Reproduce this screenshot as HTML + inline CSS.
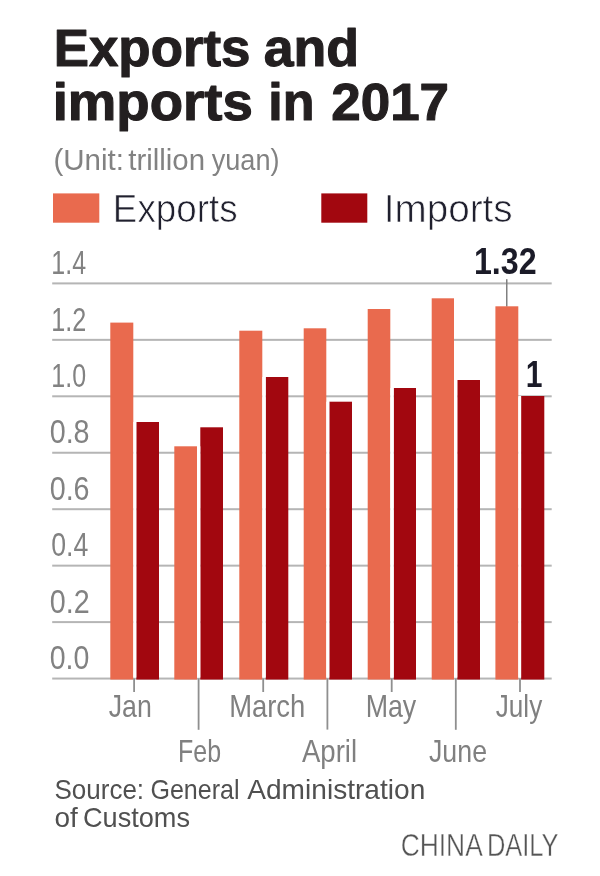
<!DOCTYPE html>
<html><head><meta charset="utf-8"><title>Exports and imports in 2017</title>
<style>
html,body{margin:0;padding:0;background:#fff;}
body{width:600px;height:876px;overflow:hidden;font-family:"Liberation Sans",sans-serif;}
svg{display:block;}
text{font-family:"Liberation Sans",sans-serif;}
</style></head><body>
<svg width="600" height="876" viewBox="0 0 600 876">
<rect x="0" y="0" width="600" height="876" fill="#ffffff"/>
<defs><filter id="soft" color-interpolation-filters="sRGB" x="0" y="0" width="600" height="876" filterUnits="userSpaceOnUse"><feGaussianBlur stdDeviation="0.4"/></filter></defs>
<g filter="url(#soft)">
<rect x="53" y="193.4" width="46.3" height="29.3" fill="#E96A4E"/>
<rect x="321.3" y="193.4" width="46" height="29.3" fill="#A2070F"/>
<rect x="52.2" y="282.40" width="499.5" height="2" fill="#b5b5b5"/>
<rect x="52.2" y="338.85" width="499.5" height="2" fill="#b5b5b5"/>
<rect x="52.2" y="395.30" width="499.5" height="2" fill="#b5b5b5"/>
<rect x="52.2" y="451.75" width="499.5" height="2" fill="#b5b5b5"/>
<rect x="52.2" y="508.20" width="499.5" height="2" fill="#b5b5b5"/>
<rect x="52.2" y="564.65" width="499.5" height="2" fill="#b5b5b5"/>
<rect x="52.2" y="621.10" width="499.5" height="2" fill="#b5b5b5"/>
<rect x="52.2" y="677.55" width="499.5" height="2" fill="#b5b5b5"/>
<rect x="506" y="279.2" width="1.5" height="27.5" fill="#808080"/>
<rect x="110.3" y="322.6" width="23.0" height="356.95" fill="#E96A4E"/>
<rect x="136.3" y="422.0" width="22.7" height="257.55" fill="#A2070F"/>
<rect x="133.3" y="422.0" width="3.0" height="255.55" fill="#fff"/>
<rect x="174.3" y="446.3" width="22.7" height="233.25" fill="#E96A4E"/>
<rect x="200.3" y="427.3" width="22.7" height="252.25" fill="#A2070F"/>
<rect x="197.0" y="446.3" width="3.3" height="231.25" fill="#fff"/>
<rect x="239.3" y="330.7" width="23.0" height="348.85" fill="#E96A4E"/>
<rect x="265.7" y="377.0" width="22.6" height="302.55" fill="#A2070F"/>
<rect x="262.3" y="377.0" width="3.4" height="300.55" fill="#fff"/>
<rect x="303.7" y="328.3" width="22.6" height="351.25" fill="#E96A4E"/>
<rect x="329.3" y="401.7" width="22.7" height="277.85" fill="#A2070F"/>
<rect x="326.3" y="401.7" width="3.0" height="275.85" fill="#fff"/>
<rect x="367.7" y="309.0" width="22.6" height="370.55" fill="#E96A4E"/>
<rect x="393.7" y="388.0" width="22.3" height="291.55" fill="#A2070F"/>
<rect x="390.3" y="388.0" width="3.4" height="289.55" fill="#fff"/>
<rect x="431.7" y="298.3" width="22.3" height="381.25" fill="#E96A4E"/>
<rect x="457.3" y="380.0" width="22.7" height="299.55" fill="#A2070F"/>
<rect x="454.0" y="380.0" width="3.3" height="297.55" fill="#fff"/>
<rect x="495.4" y="306.3" width="22.9" height="373.25" fill="#E96A4E"/>
<rect x="521.1" y="396.0" width="23.2" height="283.55" fill="#A2070F"/>
<rect x="518.3" y="396.0" width="2.8" height="281.55" fill="#fff"/>
<rect x="133.2" y="678.55" width="1.8" height="13.45" fill="#8f8f8f"/>
<rect x="197.7" y="678.55" width="1.8" height="51.25" fill="#8f8f8f"/>
<rect x="262.3" y="678.55" width="1.8" height="13.45" fill="#8f8f8f"/>
<rect x="326.5" y="678.55" width="1.8" height="51.05" fill="#8f8f8f"/>
<rect x="390.8" y="678.55" width="1.8" height="13.45" fill="#8f8f8f"/>
<rect x="454.9" y="678.55" width="1.8" height="51.25" fill="#8f8f8f"/>
<rect x="519.1" y="678.55" width="1.8" height="13.45" fill="#8f8f8f"/>
<text x="53.68" y="65.5" font-size="52.4" font-weight="bold" fill="#231f20" textLength="196.86" lengthAdjust="spacingAndGlyphs" stroke="#231f20" stroke-width="1.1" stroke-linejoin="round">Exports</text>
<text x="263.71" y="65.5" font-size="52.4" font-weight="bold" fill="#231f20" textLength="95.41" lengthAdjust="spacingAndGlyphs" stroke="#231f20" stroke-width="1.1" stroke-linejoin="round">and</text>
<text x="52.67" y="120.2" font-size="52.4" font-weight="bold" fill="#231f20" textLength="200.12" lengthAdjust="spacingAndGlyphs" stroke="#231f20" stroke-width="1.1" stroke-linejoin="round">imports</text>
<text x="268.36" y="120.2" font-size="52.4" font-weight="bold" fill="#231f20" textLength="46.2" lengthAdjust="spacingAndGlyphs" stroke="#231f20" stroke-width="1.1" stroke-linejoin="round">in</text>
<text x="331.22" y="120.2" font-size="52.4" font-weight="bold" fill="#231f20" textLength="117.83" lengthAdjust="spacingAndGlyphs" stroke="#231f20" stroke-width="1.1" stroke-linejoin="round">2017</text>
<text x="53.38" y="170" font-size="30" fill="#828282" textLength="70.54" lengthAdjust="spacingAndGlyphs">(Unit:</text>
<text x="128.23" y="170" font-size="30" fill="#828282" textLength="76.83" lengthAdjust="spacingAndGlyphs">trillion</text>
<text x="211.74" y="170" font-size="30" fill="#828282" textLength="67.81" lengthAdjust="spacingAndGlyphs">yuan)</text>
<text x="112.86" y="222.1" font-size="38" fill="#20202e" textLength="124.71" lengthAdjust="spacingAndGlyphs" stroke="#fff" stroke-width="0.7">Exports</text>
<text x="383.82" y="222.1" font-size="38" fill="#20202e" textLength="128.76" lengthAdjust="spacingAndGlyphs" stroke="#fff" stroke-width="0.7">Imports</text>
<text x="473.89" y="273.6" font-size="37.5" font-weight="bold" fill="#1b1b28" textLength="62.67" lengthAdjust="spacingAndGlyphs">1.32</text>
<text x="525.67" y="387.2" font-size="36" font-weight="bold" fill="#1b1b28" textLength="16.74" lengthAdjust="spacingAndGlyphs">1</text>
<text x="108.72" y="717" font-size="31.5" fill="#808080" textLength="43.12" lengthAdjust="spacingAndGlyphs">Jan</text>
<text x="178.1" y="761.6" font-size="31.5" fill="#808080" textLength="42.98" lengthAdjust="spacingAndGlyphs">Feb</text>
<text x="229.13" y="717" font-size="31.5" fill="#808080" textLength="76.22" lengthAdjust="spacingAndGlyphs">March</text>
<text x="302.0" y="761.6" font-size="31.5" fill="#808080" textLength="55.07" lengthAdjust="spacingAndGlyphs">April</text>
<text x="365.64" y="717" font-size="31.5" fill="#808080" textLength="50.62" lengthAdjust="spacingAndGlyphs">May</text>
<text x="428.98" y="761.6" font-size="31.5" fill="#808080" textLength="58.05" lengthAdjust="spacingAndGlyphs">June</text>
<text x="495.75" y="717" font-size="31.5" fill="#808080" textLength="46.51" lengthAdjust="spacingAndGlyphs">July</text>
<text x="54.46" y="799.2" font-size="28.5" fill="#505050" textLength="89.64" lengthAdjust="spacingAndGlyphs">Source:</text>
<text x="150.46" y="799.2" font-size="28.5" fill="#505050" textLength="89.1" lengthAdjust="spacingAndGlyphs">General</text>
<text x="247.25" y="799.2" font-size="28.5" fill="#505050" textLength="178.02" lengthAdjust="spacingAndGlyphs">Administration</text>
<text x="54.44" y="826.8" font-size="28.5" fill="#505050" textLength="23.31" lengthAdjust="spacingAndGlyphs">of</text>
<text x="82.97" y="826.8" font-size="28.5" fill="#505050" textLength="107.06" lengthAdjust="spacingAndGlyphs">Customs</text>
<text x="400.71" y="855.8" font-size="30.6" fill="#555555" textLength="82.05" lengthAdjust="spacingAndGlyphs" stroke="#fff" stroke-width="0.4">CHINA</text>
<text x="486.89" y="855.8" font-size="30.6" fill="#555555" textLength="71.66" lengthAdjust="spacingAndGlyphs" stroke="#fff" stroke-width="0.4">DAILY</text>
<text x="51.35" y="274.1" font-size="33.5" fill="#828282" textLength="34.71" lengthAdjust="spacingAndGlyphs">1.4</text>
<text x="51.33" y="330.5" font-size="33.5" fill="#828282" textLength="35.04" lengthAdjust="spacingAndGlyphs">1.2</text>
<text x="51.35" y="387.0" font-size="33.5" fill="#828282" textLength="34.74" lengthAdjust="spacingAndGlyphs">1.0</text>
<text x="49.69" y="443.4" font-size="33.5" fill="#828282" textLength="39.89" lengthAdjust="spacingAndGlyphs">0.8</text>
<text x="49.69" y="499.9" font-size="33.5" fill="#828282" textLength="39.89" lengthAdjust="spacingAndGlyphs">0.6</text>
<text x="51.2" y="556.4" font-size="33.5" fill="#828282" textLength="37.09" lengthAdjust="spacingAndGlyphs">0.4</text>
<text x="49.69" y="612.8" font-size="33.5" fill="#828282" textLength="39.91" lengthAdjust="spacingAndGlyphs">0.2</text>
<text x="49.69" y="669.2" font-size="33.5" fill="#828282" textLength="39.62" lengthAdjust="spacingAndGlyphs">0.0</text>
</g>
</svg>
</body></html>
